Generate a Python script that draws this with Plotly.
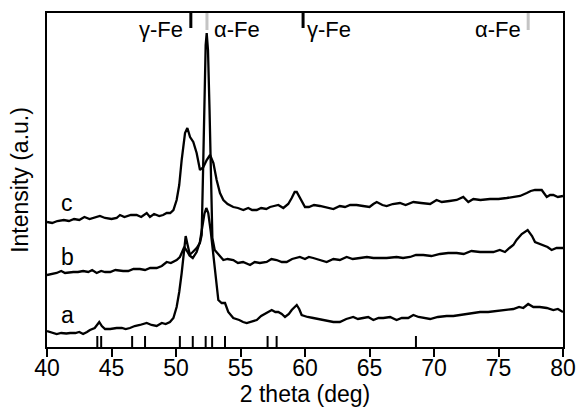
import plotly.graph_objects as go

# 2-theta (deg) and intensity (a.u., arbitrary offset units)
c_x = [40.0,40.4,40.8,41.3,41.7,42.1,42.5,42.9,43.3,43.85,44.1,44.5,45.0,45.4,45.66,46.0,46.5,46.95,47.3,47.73,47.98,48.3,48.7,49.0,49.28,49.55,49.8,50.05,50.25,50.44,50.6,50.7,50.88,51.09,51.34,51.6,51.86,52.12,52.38,52.64,52.9,53.15,53.41,53.67,54.0,54.44,54.8,55.22,55.6,55.9,56.26,56.6,57.0,57.29,57.6,57.93,58.32,58.7,58.97,59.2,59.36,59.6,60.0,60.3,60.7,61.16,61.6,62.2,62.7,63.1,63.5,64.0,64.5,65.0,65.3,65.56,66.0,66.33,66.8,67.36,67.8,68.4,69.0,69.7,70.2,70.6,71.2,71.76,72.27,72.66,73.05,73.6,74.34,75.0,75.64,76.2,76.67,77.19,77.5,77.83,78.35,78.74,79.0,79.25,79.6,80.0]
c_y = [125,124,126,127,126,128,127,130,128,130,131,129,128,129,132,130,132,132,130,134,130,133,131,132,134,134,137,147,162,187,207,214,219,210,205,194,177,180,187,192,184,167,154,147,143,140,139,137,139,137,137,139,138,140,141,142,139,143,149,155,155,149,140,140,142,141,140,138,141,140,142,142,141,140,143,145,142,141,143,144,142,145,144,143,147,145,146,147,150,145,148,147,148,148,149,150,151,154,156,157,157,150,152,152,150,151]

b_x = [40.0,40.4,40.75,41.1,41.4,42.04,42.4,42.8,43.2,43.5,43.85,44.2,44.5,44.9,45.3,45.9,46.3,46.7,47.2,47.6,48.0,48.5,48.9,49.28,49.6,50.05,50.3,50.44,50.64,50.85,51.03,51.3,51.6,51.85,51.99,52.1,52.2,52.3,52.38,52.48,52.6,52.72,52.82,53.0,53.2,53.4,53.67,54.0,54.44,54.8,55.2,55.74,56.1,56.5,57.03,57.4,57.8,58.2,58.58,59.0,59.6,60.0,60.3,60.64,61.2,61.68,62.2,62.7,63.23,63.7,64.26,64.8,65.3,65.8,66.33,67.1,67.6,68.14,68.6,69.17,69.8,70.47,71.1,71.76,72.3,72.9,73.57,74.1,74.6,75.1,75.5,75.85,76.15,76.4,76.8,77.26,77.6,77.83,78.2,78.47,78.8,79.12,79.5,80.0]
b_y = [72,73,74,76,74,75,75,76,75,77,74,76,75,75,77,76,76,78,78,77,79,79,81,85,84,87,90,94,100,96,92,95,99,104,112,177,247,302,314,297,237,167,109,97,94,92,87,88,87,84,85,82,85,84,85,88,87,85,85,88,90,88,90,89,87,85,88,87,90,88,89,90,89,89,89,90,89,90,92,92,91,93,94,94,93,96,95,95,95,97,95,99,102,107,113,117,111,105,103,102,100,97,99,99]

a_x = [40.0,40.3,40.75,41.1,41.5,41.8,42.2,42.5,42.8,43.1,43.33,43.7,44.05,44.25,44.5,44.9,45.4,45.8,46.1,46.43,46.8,47.2,47.73,48.1,48.5,48.9,49.2,49.53,49.8,50.05,50.25,50.44,50.6,50.75,50.9,51.1,51.3,51.6,51.85,52.05,52.2,52.35,52.5,52.7,52.9,53.02,53.15,53.28,53.54,53.8,54.05,54.44,54.9,55.2,55.48,55.9,56.26,56.6,57.03,57.42,57.7,57.93,58.2,58.45,58.75,58.97,59.36,59.55,59.74,60.2,60.64,61.1,61.68,62.2,62.7,63.2,63.74,64.1,64.5,64.9,65.3,65.7,66.07,66.6,67.1,67.5,68.0,68.4,68.8,69.2,69.7,70.3,70.98,71.5,72.0,72.53,73.0,73.57,74.2,74.86,75.5,76.15,76.6,76.92,77.3,77.7,78.2,78.74,79.25,79.6,80.0]
a_y = [16,15,13,14,13.5,14,14,15,13,15,17,19,25,21,18,18,19,19,18,19,21,22,24,22,21,24,23,25,29,40,55,74,97,111,102,91,89,95,105,119,133,139,134,115,92,74,57,47,44,44,35,29,27,25,24,26,27,31,34,37,35,35,33,30,33,37,42,38,32,30,29,28,26,25,25,28,30,28,29,30,27,29,29,30,27,29,29,32,30,29,28,30,31,31,32,33,34,35,35,36,37,38,40,39,43,40,40,39,37,38,35]

# reference line positions
ref_peaks = [43.9, 44.2, 46.6, 47.6, 50.3, 51.3, 52.3, 52.8, 53.8, 57.1, 57.8, 68.6]
gamma_fe = [51.15, 59.85]
alpha_fe = [52.4, 77.3]
curve_labels = ["a", "b", "c"]
label_y = [32, 90, 144]

FONT = "Liberation Sans, Arial, sans-serif"

fig = go.Figure()

for xs, ys in [(a_x, a_y), (b_x, b_y), (c_x, c_y)]:
    fig.add_trace(go.Scatter(x=xs, y=ys, mode="lines",
                             line=dict(color="black", width=2.3), showlegend=False,
                             hoverinfo="skip"))

def bars(xs, y0, y1):
    bx, by = [], []
    for v in xs:
        bx += [v, v, None]
        by += [y0, y1, None]
    return bx, by

bx, by = bars(ref_peaks, 0, 11)
fig.add_trace(go.Scatter(x=bx, y=by, mode="lines", line=dict(color="black", width=2),
                         showlegend=False, hoverinfo="skip"))
gx, gy = bars(gamma_fe, 319, 334)
fig.add_trace(go.Scatter(x=gx, y=gy, mode="lines", line=dict(color="black", width=3),
                         showlegend=False, hoverinfo="skip"))
ax_, ay_ = bars(alpha_fe, 317, 334)
fig.add_trace(go.Scatter(x=ax_, y=ay_, mode="lines", line=dict(color="#c4c4c4", width=3),
                         showlegend=False, hoverinfo="skip"))

ann = []
ann.append(dict(x=gamma_fe[0], y=318, text="γ-Fe", xanchor="right", xshift=-6))
ann.append(dict(x=alpha_fe[0], y=318, text="α-Fe", xanchor="left", xshift=5))
ann.append(dict(x=gamma_fe[1], y=318, text="γ-Fe", xanchor="left", xshift=2))
ann.append(dict(x=alpha_fe[1], y=318, text="α-Fe", xanchor="right", xshift=-5))
for a in ann:
    a.update(showarrow=False, yanchor="middle", font=dict(family=FONT, size=22, color="black"))
for t, yv in zip(curve_labels, label_y):
    ann.append(dict(x=41.55, y=yv, text=t, showarrow=False, xanchor="center", yanchor="middle",
                    font=dict(family=FONT, size=23, color="black")))

fig.update_layout(
    width=576, height=420,
    margin=dict(l=47, r=13, t=13, b=73),
    paper_bgcolor="white", plot_bgcolor="white",
    annotations=ann,
    font=dict(family=FONT, size=23, color="black"),
)
fig.update_xaxes(range=[40, 80], dtick=5, tick0=40, ticks="outside", ticklen=8, tickwidth=2,
                 tickcolor="black", showline=True, linewidth=2, linecolor="black", mirror=True,
                 showgrid=False, zeroline=False, automargin=False, ticklabelstandoff=-9,
                 tickfont=dict(family=FONT, size=23, color="black"),
                 title=dict(text="2 theta (deg)", font=dict(family=FONT, size=23, color="black"), standoff=4))
fig.update_yaxes(range=[0, 334], showticklabels=False, ticks="", showline=True, linewidth=2,
                 linecolor="black", mirror=True, showgrid=False, zeroline=False, automargin=False,
                 title=dict(text="Intensity (a.u.)", font=dict(family=FONT, size=23, color="black"), standoff=10))

fig.write_html("out.html", config={"displayModeBar": False},
               post_script="document.body.style.margin='0';document.body.style.padding='0';")
